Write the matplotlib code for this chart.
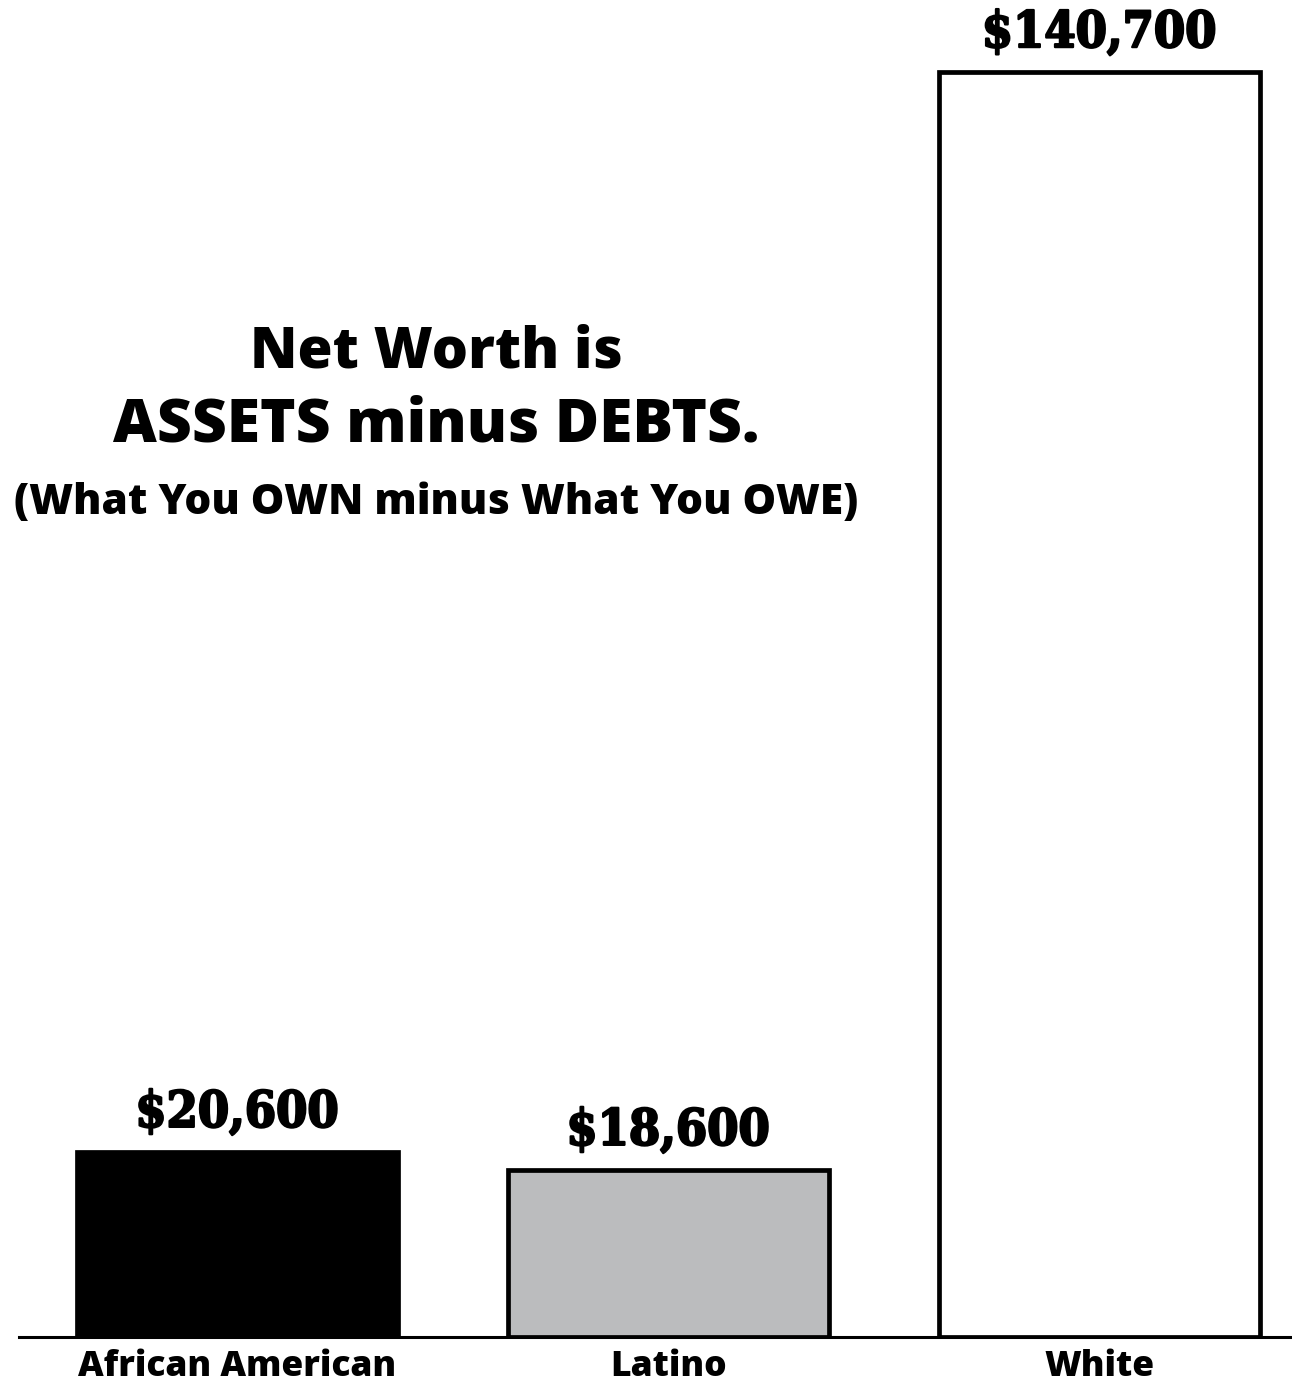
import matplotlib
matplotlib.use("Agg")
import matplotlib.pyplot as plt
import matplotlib.patheffects as pe

# Median household net worth by group
categories = ["African American", "Latino", "White"]
net_worth = [20600, 18600, 140700]
value_labels = ["$20,600", "$18,600", "$140,700"]
fill_colors = ["#000000", "#bbbcbe", "#ffffff"]

W, H = 1292, 1383
fig = plt.figure(figsize=(W / 100, H / 100), dpi=100)
fig.patch.set_facecolor("white")

base_px = 1337
top_px = 72
ax = fig.add_axes([19 / W, (H - base_px) / H, 1 - 19 / W, base_px / H])
ymax = max(net_worth) * base_px / (base_px - top_px)
ax.set_ylim(0, ymax)
ax.set_xlim(-0.506, 2.447)

x = list(range(len(categories)))
ax.bar(x, net_worth, width=0.745, color=fill_colors, edgecolor="black",
       linewidth=3.4, zorder=3)

heavy = [pe.withStroke(linewidth=1.6, foreground="black")]
for xi, v, lab in zip(x, net_worth, value_labels):
    ax.annotate(lab, (xi, v), xytext=(0, 10), textcoords="offset points",
                ha="center", va="bottom", fontsize=36, family="DejaVu Serif",
                weight="bold", stretch="condensed", annotation_clip=False,
                path_effects=heavy)

for s in ["top", "left", "right"]:
    ax.spines[s].set_visible(False)
ax.spines["bottom"].set_linewidth(2.2)
ax.spines["bottom"].set_zorder(4)
ax.set_yticks([])
ax.set_xticks(x)
ax.set_xticklabels(categories, fontsize=25.5, fontweight=800, family="Open Sans")
ax.tick_params(axis="x", length=0, pad=9)

cx = 436 / W
title_font = dict(family="Open Sans", weight=800, ha="center", va="baseline")
fig.text(cx, 1 - 368 / H, "Net Worth is", fontsize=41, **title_font)
fig.text(cx, 1 - 442 / H, "ASSETS minus DEBTS.", fontsize=43.5, **title_font)
fig.text(cx, 1 - 514 / H, "(What You OWN minus What You OWE)", fontsize=30.5, **title_font)

fig.savefig("out.png", dpi=100)
